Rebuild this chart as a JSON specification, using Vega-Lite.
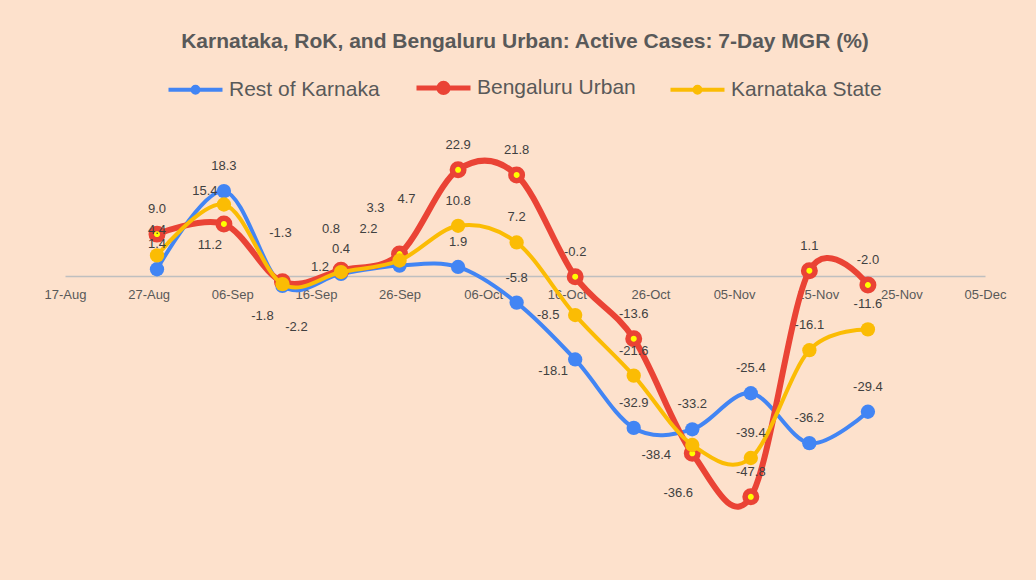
{
  "$schema": "https://vega.github.io/schema/vega-lite/v6.json",
  "width": 920,
  "height": 370,
  "autosize": {"type": "none"},
  "padding": {"left": 65, "top": 137, "right": 51, "bottom": 73},
  "background": "#FDE1CC",
  "title": {
    "text": "Karnataka, RoK, and Bengaluru Urban: Active Cases: 7-Day MGR (%)",
    "font": "Liberation Sans",
    "fontSize": 21,
    "fontWeight": "bold",
    "color": "#595959",
    "anchor": "middle",
    "offset": 25
  },
  "config": {
    "view": {"stroke": null},
    "font": "Liberation Sans",
    "locale": {"number": {"decimal": ".", "thousands": ",", "grouping": [3], "currency": ["$", ""], "minus": "-"}}
  },
  "data": {
    "values": [
      {"date": "2020-08-28", "series": "Rest of Karnaka", "value": 1.4},
      {"date": "2020-09-05", "series": "Rest of Karnaka", "value": 18.3},
      {"date": "2020-09-12", "series": "Rest of Karnaka", "value": -2.2},
      {"date": "2020-09-19", "series": "Rest of Karnaka", "value": 0.4},
      {"date": "2020-09-26", "series": "Rest of Karnaka", "value": 2.2},
      {"date": "2020-10-03", "series": "Rest of Karnaka", "value": 1.9},
      {"date": "2020-10-10", "series": "Rest of Karnaka", "value": -5.8},
      {"date": "2020-10-17", "series": "Rest of Karnaka", "value": -18.1},
      {"date": "2020-10-24", "series": "Rest of Karnaka", "value": -32.9},
      {"date": "2020-10-31", "series": "Rest of Karnaka", "value": -33.2},
      {"date": "2020-11-07", "series": "Rest of Karnaka", "value": -25.4},
      {"date": "2020-11-14", "series": "Rest of Karnaka", "value": -36.2},
      {"date": "2020-11-21", "series": "Rest of Karnaka", "value": -29.4},
      {"date": "2020-08-28", "series": "Bengaluru Urban", "value": 9.0},
      {"date": "2020-09-05", "series": "Bengaluru Urban", "value": 11.2},
      {"date": "2020-09-12", "series": "Bengaluru Urban", "value": -1.3},
      {"date": "2020-09-19", "series": "Bengaluru Urban", "value": 1.2},
      {"date": "2020-09-26", "series": "Bengaluru Urban", "value": 4.7},
      {"date": "2020-10-03", "series": "Bengaluru Urban", "value": 22.9},
      {"date": "2020-10-10", "series": "Bengaluru Urban", "value": 21.8},
      {"date": "2020-10-17", "series": "Bengaluru Urban", "value": -0.2},
      {"date": "2020-10-24", "series": "Bengaluru Urban", "value": -13.6},
      {"date": "2020-10-31", "series": "Bengaluru Urban", "value": -38.4},
      {"date": "2020-11-07", "series": "Bengaluru Urban", "value": -47.8},
      {"date": "2020-11-14", "series": "Bengaluru Urban", "value": 1.1},
      {"date": "2020-11-21", "series": "Bengaluru Urban", "value": -2.0},
      {"date": "2020-08-28", "series": "Karnataka State", "value": 4.4},
      {"date": "2020-09-05", "series": "Karnataka State", "value": 15.4},
      {"date": "2020-09-12", "series": "Karnataka State", "value": -1.8},
      {"date": "2020-09-19", "series": "Karnataka State", "value": 0.8},
      {"date": "2020-09-26", "series": "Karnataka State", "value": 3.3},
      {"date": "2020-10-03", "series": "Karnataka State", "value": 10.8},
      {"date": "2020-10-10", "series": "Karnataka State", "value": 7.2},
      {"date": "2020-10-17", "series": "Karnataka State", "value": -8.5},
      {"date": "2020-10-24", "series": "Karnataka State", "value": -21.6},
      {"date": "2020-10-31", "series": "Karnataka State", "value": -36.6},
      {"date": "2020-11-07", "series": "Karnataka State", "value": -39.4},
      {"date": "2020-11-14", "series": "Karnataka State", "value": -16.1},
      {"date": "2020-11-21", "series": "Karnataka State", "value": -11.6}
    ]
  },
  "encoding": {
    "x": {
      "field": "date",
      "type": "temporal",
      "scale": {
        "type": "utc",
        "domain": [
          {"year": 2020, "month": 8, "date": 17, "utc": true},
          {"year": 2020, "month": 12, "date": 5, "utc": true}
        ]
      },
      "axis": {
        "title": null,
        "values": [
          {"year": 2020, "month": 8, "date": 17, "utc": true},
          {"year": 2020, "month": 8, "date": 27, "utc": true},
          {"year": 2020, "month": 9, "date": 6, "utc": true},
          {"year": 2020, "month": 9, "date": 16, "utc": true},
          {"year": 2020, "month": 9, "date": 26, "utc": true},
          {"year": 2020, "month": 10, "date": 6, "utc": true},
          {"year": 2020, "month": 10, "date": 16, "utc": true},
          {"year": 2020, "month": 10, "date": 26, "utc": true},
          {"year": 2020, "month": 11, "date": 5, "utc": true},
          {"year": 2020, "month": 11, "date": 15, "utc": true},
          {"year": 2020, "month": 11, "date": 25, "utc": true},
          {"year": 2020, "month": 12, "date": 5, "utc": true}
        ],
        "format": "%d-%b",
        "offset": -231,
        "ticks": false,
        "grid": false,
        "domainColor": "#BFBFBF",
        "domainWidth": 1.5,
        "labelColor": "#595959",
        "labelFont": "Liberation Sans",
        "labelFontSize": 13,
        "labelPadding": 12,
        "labelOverlap": false,
        "labelFlush": false
      }
    },
    "y": {
      "field": "value",
      "type": "quantitative",
      "scale": {"domain": [-50, 30], "nice": false, "zero": false},
      "axis": null
    }
  },
  "layer": [
    {
      "transform": [{"filter": "datum.series === 'Rest of Karnaka'"}],
      "mark": {"type": "line", "interpolate": "cardinal", "strokeWidth": 4},
      "encoding": {
        "color": {
          "field": "series",
          "type": "nominal",
          "scale": {
            "domain": ["Rest of Karnaka", "Bengaluru Urban", "Karnataka State"],
            "range": ["#4285F4", "#EA4335", "#FBBC04"]
          },
          "legend": {
            "title": null,
            "orient": "none",
            "legendX": 120,
            "legendY": -60,
            "direction": "horizontal",
            "symbolType": "M-1,0L1,0M-0.11,0A0.11,0.11,0,1,0,0.11,0A0.11,0.11,0,1,0,-0.11,0Z",
            "symbolSize": 2916,
            "symbolStrokeWidth": 4,
            "labelFont": "Liberation Sans",
            "labelFontSize": 21,
            "labelColor": "#595959",
            "labelOffset": 23,
            "columnPadding": 26,
            "labelLimit": 400,
            "encode": {
              "symbols": {
                "update": {
                  "shape": {"signal": "datum.value === 'Bengaluru Urban' ? 'M-1,0L1,0M-0.17,0A0.17,0.17,0,1,0,0.17,0A0.17,0.17,0,1,0,-0.17,0Z' : 'M-1,0L1,0M-0.11,0A0.11,0.11,0,1,0,0.11,0A0.11,0.11,0,1,0,-0.11,0Z'"},
                  "fill": {"signal": "datum.value === 'Bengaluru Urban' ? '#FFFF00' : (datum.value === 'Rest of Karnaka' ? '#4285F4' : '#FBBC04')"},
                  "strokeWidth": {"signal": "datum.value === 'Bengaluru Urban' ? 5 : 4"},
                  "opacity": {"value": 1}
                }
              }
            }
          }
        }
      }
    },
    {
      "transform": [{"filter": "datum.series === 'Rest of Karnaka'"}],
      "mark": {"type": "point", "shape": "circle", "filled": true, "size": 205, "color": "#4285F4", "opacity": 1}
    },
    {
      "transform": [{"filter": "datum.series === 'Bengaluru Urban'"}],
      "mark": {"type": "line", "interpolate": "cardinal", "strokeWidth": 6},
      "encoding": {"color": {"field": "series", "type": "nominal"}}
    },
    {
      "transform": [{"filter": "datum.series === 'Bengaluru Urban'"}],
      "mark": {"type": "point", "shape": "circle", "filled": true, "size": 132, "fill": "#FFFF00", "stroke": "#EA4335", "strokeWidth": 5.5, "opacity": 1, "fillOpacity": 1, "strokeOpacity": 1}
    },
    {
      "transform": [{"filter": "datum.series === 'Karnataka State'"}],
      "mark": {"type": "line", "interpolate": "cardinal", "strokeWidth": 4},
      "encoding": {"color": {"field": "series", "type": "nominal"}}
    },
    {
      "transform": [{"filter": "datum.series === 'Karnataka State'"}],
      "mark": {"type": "point", "shape": "circle", "filled": true, "size": 205, "color": "#FBBC04", "opacity": 1}
    },
    {
      "transform": [{"filter": "indexof([-2.2, 2.2, -18.1, 11.2, -1.3, 1.2, 4.7, -38.4, 15.4, -1.8, 0.8, 3.3, -8.5, -36.6], datum.value) < 0"}],
      "mark": {"type": "text", "dy": -25, "fontSize": 13, "color": "#404040", "font": "Liberation Sans"},
      "encoding": {"text": {"field": "value", "type": "quantitative", "format": ".1f"}}
    },
    {"transform": [{"filter": "datum.value === -2.2"}], "mark": {"type": "text", "dx": 14, "dy": 41, "fontSize": 13, "color": "#404040"}, "encoding": {"text": {"field": "value", "type": "quantitative", "format": ".1f"}}},
    {"transform": [{"filter": "datum.value === 2.2"}], "mark": {"type": "text", "dx": -31, "dy": -37, "fontSize": 13, "color": "#404040"}, "encoding": {"text": {"field": "value", "type": "quantitative", "format": ".1f"}}},
    {"transform": [{"filter": "datum.value === -18.1"}], "mark": {"type": "text", "dx": -22, "dy": 12, "fontSize": 13, "color": "#404040"}, "encoding": {"text": {"field": "value", "type": "quantitative", "format": ".1f"}}},
    {"transform": [{"filter": "datum.value === 11.2"}], "mark": {"type": "text", "dx": -14, "dy": 21, "fontSize": 13, "color": "#404040"}, "encoding": {"text": {"field": "value", "type": "quantitative", "format": ".1f"}}},
    {"transform": [{"filter": "datum.value === -1.3"}], "mark": {"type": "text", "dx": -2, "dy": -49, "fontSize": 13, "color": "#404040"}, "encoding": {"text": {"field": "value", "type": "quantitative", "format": ".1f"}}},
    {"transform": [{"filter": "datum.value === 1.2"}], "mark": {"type": "text", "dx": -21, "dy": -3, "fontSize": 13, "color": "#404040"}, "encoding": {"text": {"field": "value", "type": "quantitative", "format": ".1f"}}},
    {"transform": [{"filter": "datum.value === 4.7"}], "mark": {"type": "text", "dx": 7, "dy": -55, "fontSize": 13, "color": "#404040"}, "encoding": {"text": {"field": "value", "type": "quantitative", "format": ".1f"}}},
    {"transform": [{"filter": "datum.value === -38.4"}], "mark": {"type": "text", "dx": -36, "dy": 2, "fontSize": 13, "color": "#404040"}, "encoding": {"text": {"field": "value", "type": "quantitative", "format": ".1f"}}},
    {"transform": [{"filter": "datum.value === 15.4"}], "mark": {"type": "text", "dx": -19, "dy": -14, "fontSize": 13, "color": "#404040"}, "encoding": {"text": {"field": "value", "type": "quantitative", "format": ".1f"}}},
    {"transform": [{"filter": "datum.value === -1.8"}], "mark": {"type": "text", "dx": -20, "dy": 32, "fontSize": 13, "color": "#404040"}, "encoding": {"text": {"field": "value", "type": "quantitative", "format": ".1f"}}},
    {"transform": [{"filter": "datum.value === 0.8"}], "mark": {"type": "text", "dx": -10, "dy": -43, "fontSize": 13, "color": "#404040"}, "encoding": {"text": {"field": "value", "type": "quantitative", "format": ".1f"}}},
    {"transform": [{"filter": "datum.value === 3.3"}], "mark": {"type": "text", "dx": -24, "dy": -52, "fontSize": 13, "color": "#404040"}, "encoding": {"text": {"field": "value", "type": "quantitative", "format": ".1f"}}},
    {"transform": [{"filter": "datum.value === -8.5"}], "mark": {"type": "text", "dx": -27, "dy": 0, "fontSize": 13, "color": "#404040"}, "encoding": {"text": {"field": "value", "type": "quantitative", "format": ".1f"}}},
    {"transform": [{"filter": "datum.value === -36.6"}], "mark": {"type": "text", "dx": -14, "dy": 48, "fontSize": 13, "color": "#404040"}, "encoding": {"text": {"field": "value", "type": "quantitative", "format": ".1f"}}}
  ]
}
